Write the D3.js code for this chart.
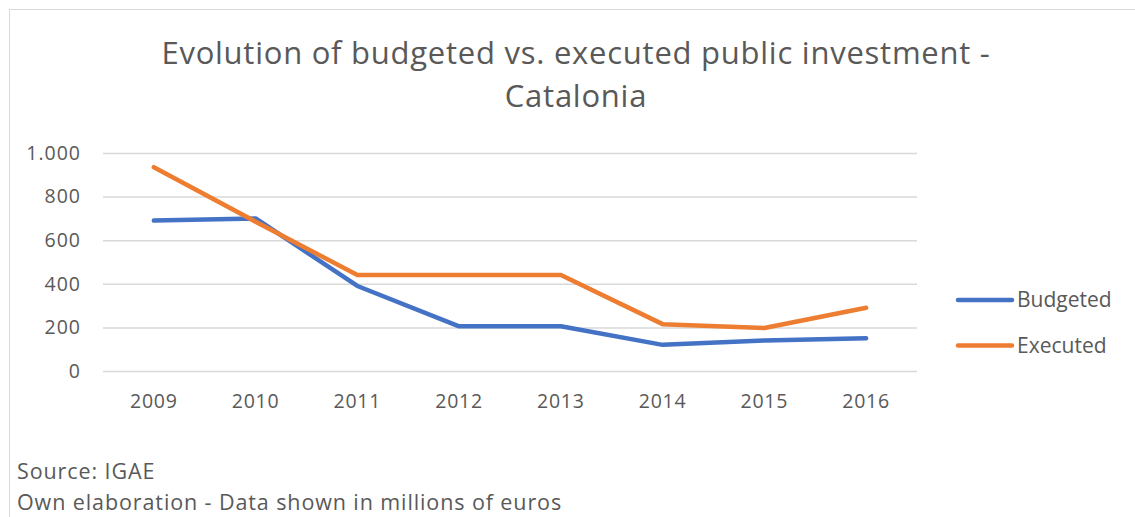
<!DOCTYPE html>
<html><head><meta charset="utf-8">
<script src="https://cdn.jsdelivr.net/npm/d3@7"></script>
<style>
html,body{margin:0;padding:0;background:#fff;}
svg{display:block;}
text{font-family:"Open Sans",sans-serif;fill:#595959;}
</style></head>
<body>
<svg id="chart" width="1135" height="517"></svg>
<script>
const years = ["2009","2010","2011","2012","2013","2014","2015","2016"];
const budgeted = [690, 700, 390, 205, 205, 120, 140, 150];
const executed = [935, 685, 440, 440, 440, 215, 197, 290];
const yTicks = [0, 200, 400, 600, 800, 1000];
const seriesNames = ["Budgeted", "Executed"];
const seriesColors = ["#4472C4", "#ED7D31"];
const titleLines = ["Evolution of budgeted vs. executed public investment -", "Catalonia"];
const notes = ["Source: IGAE", "Own elaboration - Data shown in millions of euros"];

const svg = d3.select("#chart");
const W = 1135, H = 517;
const plot = {left: 103, right: 917, top: 153, bottom: 371};

// chart border
svg.append("rect").attr("x", 9.5).attr("y", 9.5).attr("width", W + 10).attr("height", H + 10)
  .attr("fill", "none").attr("stroke", "#d9d9d9").attr("stroke-width", 1);

// title
svg.append("g").selectAll("text").data(titleLines).join("text")
  .attr("x", 576).attr("y", (d, i) => 64 + i * 43)
  .attr("text-anchor", "middle").attr("font-size", 31).attr("letter-spacing", 0.75)
  .text(d => d);

const x = d3.scaleBand().domain(years).range([plot.left, plot.right]);
const y = d3.scaleLinear().domain([0, 1000]).range([plot.bottom, plot.top]);

// gridlines + y axis
const yAxis = d3.axisLeft(y).tickValues(yTicks)
  .tickSize(-(plot.right - plot.left))
  .tickFormat(d => d3.format(",")(d).replace(/,/g, "."))
  .tickPadding(22);
const gy = svg.append("g").attr("transform", `translate(${plot.left},0)`).call(yAxis);
gy.select(".domain").remove();
gy.selectAll(".tick line").attr("stroke", "#d9d9d9").attr("stroke-width", 1.5);
gy.selectAll(".tick text").attr("font-size", 19.5).attr("font-family", "Open Sans")
  .attr("fill", "#595959").attr("letter-spacing", 1);

const xAxis = d3.axisBottom(x).tickSize(0).tickPadding(23);
const gx = svg.append("g").attr("transform", `translate(0,${plot.bottom})`).call(xAxis);
gx.select(".domain").remove();
gx.selectAll(".tick text").attr("font-size", 19.5).attr("font-family", "Open Sans")
  .attr("fill", "#595959").attr("letter-spacing", 0.8);

// lines
const line = d3.line().x((d, i) => x(years[i]) + x.bandwidth() / 2).y(d => y(d));
[budgeted, executed].forEach((vals, k) => {
  svg.append("path").datum(vals).attr("d", line)
    .attr("fill", "none").attr("stroke", seriesColors[k])
    .attr("stroke-width", 4.5).attr("stroke-linejoin", "round").attr("stroke-linecap", "round");
});

// legend
const lg = svg.append("g").selectAll("g").data(seriesNames).join("g")
  .attr("transform", (d, i) => `translate(958,${300 + i * 45.5})`);
lg.append("line").attr("x1", 0).attr("x2", 54).attr("y1", 0).attr("y2", 0)
  .attr("stroke", (d, i) => seriesColors[i]).attr("stroke-width", 4.5).attr("stroke-linecap", "round");
lg.append("text").attr("x", 59).attr("y", 0).attr("dy", "0.35em")
  .attr("font-size", 21).text(d => d);

// notes
svg.append("g").selectAll("text").data(notes).join("text")
  .attr("x", 17).attr("y", (d, i) => 479 + i * 31)
  .attr("font-size", 21.5).attr("letter-spacing", 0.9).text(d => d);
</script>
</body></html>
